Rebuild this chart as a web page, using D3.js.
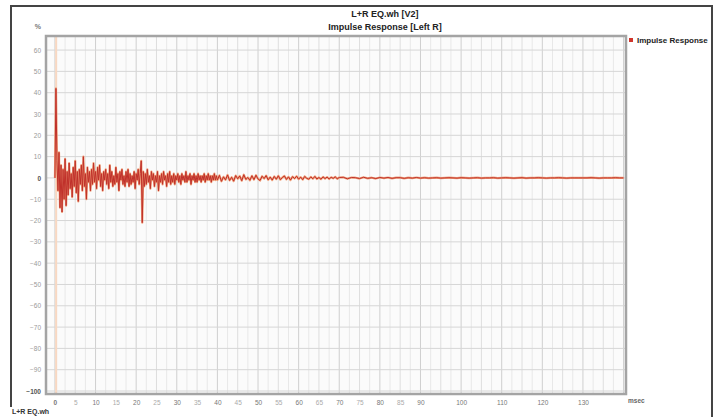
<!DOCTYPE html>
<html><head><meta charset="utf-8">
<script src="https://cdn.jsdelivr.net/npm/d3@7/dist/d3.min.js"></script>
<style>body{margin:0;background:#fff}svg{display:block;font-family:"Liberation Sans",Arial,sans-serif}</style>
</head><body>
<svg id="c" width="721" height="417"></svg>
<script>
// ---- data ----
const titleLines = ["L+R EQ.wh [V2]", "Impulse Response [Left R]"];
const seriesName = "Impulse Response";
const xTickValues = [0,5,10,15,20,25,30,35,40,45,50,55,60,65,70,75,80,85,90,100,110,120,130];
const yTickValues = [60,50,40,30,20,10,0,-10,-20,-30,-40,-50,-60,-70,-80,-90,-100];
const xUnit = "msec", yUnit = "%", footer = "L+R EQ.wh";
// early part: 0 .. 40 msec, every 0.25 msec
const earlyStep = 0.25;
const irEarly = [0,42,8,-6,12,-14,6,-16,4,-10,9,-13,3,-8,7,-5,2,-9,5,-4,8,-7,3,-11,4,-3,6,-6,10,-4,2,-10,5,-2,3,-6,4,-3,7,-2,
 3,-5,5,-1,6,-4,2,-6,3,-1,4,-3,2,-5,6,-2,3,-4,1,-3,5,-2,2,-6,3,-1,4,-3,1,-4,3,-2,4,-4,2,-3,1,-2,3,-5,
 2,-1,4,-3,2,8,-21,3,-4,2,-3,4,-2,1,-5,3,-1,2,-4,1,-2,3,-6,1,-2,2,-3,3,-1,1,-4,2,-2,3,-3,1,-2,2,-3,1,
 -1,2,-2,1,-3,2,-1,1,-2,3,-2,1,-1,2,-3,1,-1,2,-2,1,-2,2,-1,1,-2,1,-1,2,-2,1,-1,2,-1,1,-2,1,-1,2,-1,1,-1];
// middle part: 40.5 .. 70 msec, every 0.5 msec
const midStart = 40.5, midStep = 0.5;
const irMid = [1.2,-1.6,0.5,-0.9,1.4,-1.2,0.3,-1.5,1.1,-0.4,0.9,-1.3,1.5,-0.7,0.2,-1.1,1.0,-0.8,1.3,-0.5,
 -1.2,0.8,-0.3,1.1,-0.9,0.4,-1.0,0.7,-0.6,1.0,-0.8,0.2,0.9,-0.7,0.5,-1.0,0.6,-0.3,0.8,-0.6,
 0.4,-0.8,0.7,-0.2,-0.6,0.5,-0.4,0.7,-0.5,0.2,-0.6,0.5,-0.3,0.4,-0.5,0.3,-0.2,0.5,-0.4,0.2];
// late part: 71 .. 140 msec, every 1 msec
const lateStart = 71, lateStep = 1;
const irLate = [0.3,-0.4,0.2,0.1,-0.3,0.3,-0.2,0.1,-0.3,0.2,
 -0.1,0.2,-0.2,0.1,0.1,-0.2,0.1,-0.1,0.2,-0.1,
 0.1,-0.1,0,0.1,-0.1,0,0.1,0,-0.1,0.1,
 0,-0.1,0,0.1,-0.1,0,0,0.1,-0.1,0,
 0.1,0,-0.1,0,0.1,-0.1,0,0,0.1,0,
 -0.1,0,0,0.1,0,-0.1,0,0,0,0,
 0,0.1,0,-0.1,0,0,0,0.1,0,0];

// ---- build ----
const pts = irEarly.map((v,i)=>({t:i*earlyStep, v}))
  .concat(irMid.map((v,i)=>({t:midStart+i*midStep, v})))
  .concat(irLate.map((v,i)=>({t:lateStart+i*lateStep, v})));

const svg = d3.select("#c");
const L=46, R=626, T=36, B=394;
const x = d3.scaleLinear().domain([-2.2,140.6]).range([L,R]);
const y = d3.scaleLinear().domain([66.6,-101.4]).range([T,B]);

// outer frame
svg.append("line").attr("x1",10).attr("x2",713).attr("y1",6).attr("y2",6).attr("stroke","#444").attr("stroke-width",2);
svg.append("line").attr("x1",11).attr("x2",11).attr("y1",6).attr("y2",407).attr("stroke","#444").attr("stroke-width",2);
svg.append("line").attr("x1",712).attr("x2",712).attr("y1",6).attr("y2",417).attr("stroke","#444").attr("stroke-width",2);

// titles
svg.selectAll("text.title").data(titleLines).join("text").attr("class","title")
  .attr("x",385).attr("y",(d,i)=>17+i*13).attr("text-anchor","middle")
  .attr("font-size",9).attr("font-weight","bold").attr("fill","#222").text(d=>d);

// plot background
svg.append("rect").attr("x",L).attr("y",T).attr("width",R-L).attr("height",B-T).attr("fill","#fbfbfb");

// vertical grid
const vgrid = d3.range(0,140.01,2.5);
svg.append("g").selectAll("line").data(vgrid).join("line")
  .attr("x1",d=>x(d)).attr("x2",d=>x(d)).attr("y1",T).attr("y2",B)
  .attr("stroke",d=>d%10===0?"#cfcfcf":(d%5===0?"#dedede":"#e8e8e8")).attr("stroke-width",1);
// horizontal grid
svg.append("g").selectAll("line").data(yTickValues).join("line")
  .attr("x1",L).attr("x2",R).attr("y1",d=>y(d)).attr("y2",d=>y(d))
  .attr("stroke","#d6d6d6").attr("stroke-width",1);

// faint marker at impulse start
svg.append("line").attr("x1",x(0.3)).attr("x2",x(0.3)).attr("y1",T).attr("y2",B)
  .attr("stroke","#f8d8c2").attr("stroke-width",2);

// trace
const line = d3.line().x(d=>x(d.t)).y(d=>y(d.v));
svg.append("path").datum(pts).attr("d",line).attr("fill","none")
  .attr("stroke","#f0a27c").attr("stroke-width",2.2).attr("stroke-linejoin","round");
svg.append("path").datum(pts).attr("d",line).attr("fill","none")
  .attr("stroke","#c0302a").attr("stroke-width",1).attr("stroke-linejoin","round");

// plot border
svg.append("rect").attr("x",L).attr("y",T).attr("width",R-L).attr("height",B-T)
  .attr("fill","none").attr("stroke","#a4a4a4").attr("stroke-width",2.5);

// y axis labels
const ya = svg.append("g").attr("transform",`translate(${L-5},0)`)
  .call(d3.axisLeft(y).tickValues(yTickValues).tickSize(0).tickPadding(0).tickFormat(d3.format("d")));
ya.select(".domain").remove();
ya.selectAll("text").attr("font-size",6.5).attr("font-family","Liberation Sans, Arial, sans-serif")
  .attr("fill",d=>(d===0||d===-100)?"#555":"#999").attr("font-weight",d=>(d===0||d===-100)?"bold":"normal");
svg.append("text").attr("x",L-5).attr("y",29).attr("text-anchor","end").attr("font-size",7)
  .attr("font-weight","bold").attr("fill","#777").text(yUnit);

// x axis labels
const xa = svg.append("g").attr("transform",`translate(0,${B+3})`)
  .call(d3.axisBottom(x).tickValues(xTickValues).tickSize(0).tickPadding(3).tickFormat(d3.format("d")));
xa.select(".domain").remove();
xa.selectAll("text").attr("font-size",6.5).attr("font-family","Liberation Sans, Arial, sans-serif")
  .attr("fill",d=>d%10===0?"#777":"#aaa").attr("font-weight",d=>d===0?"bold":"normal");
svg.append("text").attr("x",628).attr("y",403).attr("font-size",6.5).attr("font-weight","bold")
  .attr("fill","#666").text(xUnit);

// legend
svg.append("rect").attr("x",629).attr("y",38).attr("width",4).attr("height",4).attr("fill","#d0352c");
svg.append("text").attr("x",637).attr("y",42.5).attr("font-size",8).attr("font-weight","bold")
  .attr("fill","#222").text(seriesName);

// footer
svg.append("text").attr("x",12).attr("y",414).attr("font-size",7).attr("font-weight","bold")
  .attr("fill","#333").text(footer);
</script>
</body></html>
